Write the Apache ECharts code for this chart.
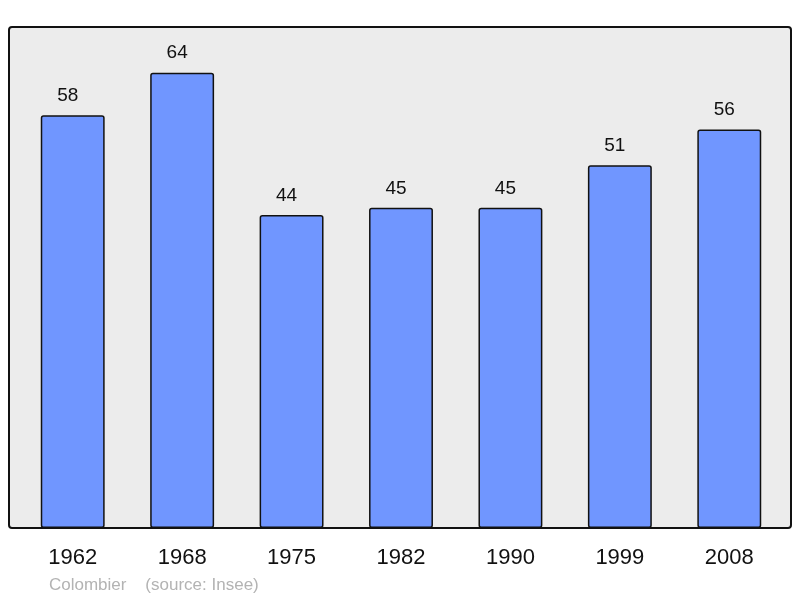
<!DOCTYPE html>
<html>
<head>
<meta charset="utf-8">
<script src="https://cdn.jsdelivr.net/npm/echarts@6/dist/echarts.min.js"></script>
<style>
html, body { margin: 0; padding: 0; background: #fff; }
#main { width: 800px; height: 598px; }
</style>
</head>
<body>
<div id="main"></div>
<script>
var years = ['1962', '1968', '1975', '1982', '1990', '1999', '2008'];
var population = [58, 64, 44, 45, 45, 51, 56];

var myChart = echarts.init(document.getElementById('main'));

var option = {
    animation: false,
    graphic: [
        {
            type: 'rect',
            z: 0,
            shape: { x: 9, y: 27, width: 782, height: 501, r: 3 },
            style: { fill: '#ececec', stroke: '#111', lineWidth: 2 }
        },
        {
            type: 'text',
            left: 49,
            top: 577,
            style: {
                text: 'Colombier    (source: Insee)',
                fill: '#b3b3b3',
                font: '17px "Liberation Sans", Arial, sans-serif'
            }
        }
    ],
    grid: {
        left: 18,
        right: 16,
        top: 30,
        bottom: 70
    },
    xAxis: {
        type: 'category',
        data: years,
        axisLine: { show: false },
        axisTick: { show: false },
        axisLabel: {
            margin: 19,
            color: '#111',
            fontSize: 22,
            fontFamily: '"Liberation Sans", Arial, sans-serif'
        }
    },
    yAxis: {
        type: 'value',
        min: 0,
        max: 70,
        show: false
    },
    series: [
        {
            type: 'bar',
            data: population,
            barWidth: '58.4%',
            itemStyle: {
                color: '#7096ff',
                borderColor: '#111',
                borderWidth: 1.5,
                borderRadius: 2
            },
            label: {
                show: true,
                position: 'top',
                distance: 10,
                offset: [-5, 0],
                color: '#111',
                fontSize: 19,
                fontFamily: '"Liberation Sans", Arial, sans-serif'
            }
        }
    ]
};

myChart.setOption(option);
</script>
</body>
</html>
